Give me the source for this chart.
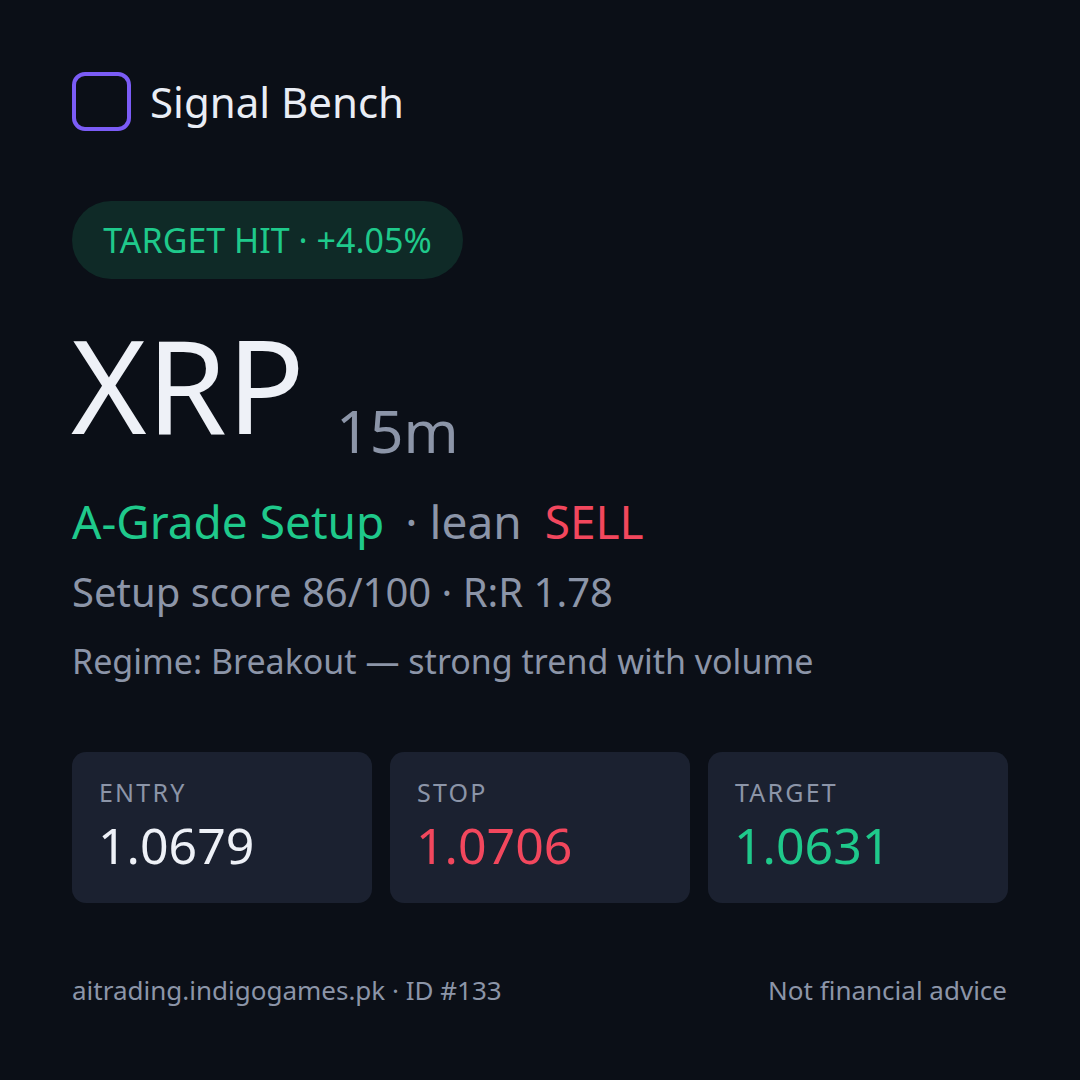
<!DOCTYPE html>
<html>
<head>
<meta charset="utf-8">
<script src="https://cdn.jsdelivr.net/npm/chart.js@4"></script>
<style>
  html, body { margin: 0; padding: 0; background: #0b0f17; }
  body { width: 1080px; height: 1080px; position: relative; overflow: hidden;
         font-family: "Noto Sans", sans-serif; color: #e9edf5; }
  .abs { position: absolute; white-space: nowrap; }
  #logo { left: 72px; top: 72px; width: 51px; height: 51px; border: 4px solid #7b5cf6; border-radius: 13px; }
  #brand { left: 150px; top: 75px; font-size: 42px; line-height: 54px; color: #e9edf5; }
  #badge { left: 72px; top: 201px; width: 391px; height: 78px; border-radius: 39px; background: #0f2a27;
           color: #1fc98b; font-size: 34px; line-height: 78px; text-align: center; }
  #sym { left: 71px; top: 304px; font-size: 129px; line-height: 160px; color: #eef1f7; }
  #tf { left: 336px; top: 390px; font-size: 59px; line-height: 80px; color: #8c95a8; }
  #grade { left: 72px; top: 490px; font-size: 46px; line-height: 62px; }
  #score { left: 72px; top: 566px; font-size: 40px; line-height: 52px; color: #8c95a8; }
  #regime { left: 72px; top: 638px; font-size: 34px; line-height: 46px; color: #8c95a8; }
  .box { position: absolute; top: 752px; width: 300px; height: 151px; border-radius: 14px; background: #1b2130; }
  .box .lab { position: absolute; left: 27px; top: 23px; font-size: 25px; letter-spacing: 2.2px; color: #8c95a8; line-height: 34px; }
  .box .val { position: absolute; left: 26px; top: 60px; font-size: 50px; line-height: 66px; }
  #foot1 { left: 72px; top: 972px; font-size: 26px; line-height: 36px; color: #8c95a8; }
  #foot2 { right: 73px; top: 972px; font-size: 26px; line-height: 36px; color: #8c95a8; }
</style>
</head>
<body>
<div id="logo" class="abs"></div>
<div id="brand" class="abs"></div>
<div id="badge" class="abs"></div>
<div id="sym" class="abs"></div>
<div id="tf" class="abs"></div>
<div id="grade" class="abs"></div>
<div id="score" class="abs"></div>
<div id="regime" class="abs"></div>
<div id="levels"></div>
<div id="foot1" class="abs"></div>
<div id="foot2" class="abs"></div>
<script>
Chart.defaults.font.family = "Noto Sans";

// signal data
const brand = "Signal Bench";
const symbol = "XRP";
const timeframe = "15m";
const resultPct = 4.05;
const grade = "A-Grade Setup";
const side = "SELL";
const score = 86;
const riskReward = 1.78;
const regime = "Breakout — strong trend with volume";
const levelNames = ["ENTRY", "STOP", "TARGET"];
const levelValues = [1.0679, 1.0706, 1.0631];
const levelColors = ["#eef1f7", "#f2475d", "#1fc98b"];
const signalId = 133;

const $ = id => document.getElementById(id);
$("brand").textContent = brand;
$("badge").textContent = "TARGET HIT · +" + resultPct.toFixed(2) + "%";
$("sym").textContent = symbol;
$("tf").textContent = timeframe;
$("grade").innerHTML = '<span style="color:#1fc98b">' + grade + '</span>' +
  '<span style="color:#8c95a8; margin-left:21px; margin-right:23px">· lean</span>' +
  '<span style="color:#f2475d">' + side + '</span>';
$("score").textContent = "Setup score " + score + "/100 · R:R " + riskReward.toFixed(2);
$("regime").textContent = "Regime: " + regime;
$("foot1").textContent = "aitrading.indigogames.pk · ID #" + signalId;
$("foot2").textContent = "Not financial advice";

const levels = $("levels");
levelNames.forEach((name, i) => {
  const box = document.createElement("div");
  box.className = "box";
  box.style.left = (72 + i * 318) + "px";
  box.innerHTML = '<div class="lab">' + name + '</div>' +
    '<div class="val" style="color:' + levelColors[i] + '">' + levelValues[i].toFixed(4) + '</div>';
  levels.appendChild(box);
});
</script>
</body>
</html>
